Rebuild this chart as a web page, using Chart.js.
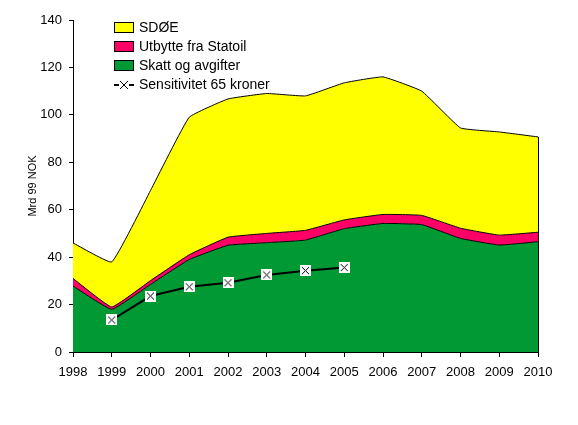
<!DOCTYPE html>
<html>
<head>
<meta charset="utf-8">
<script src="https://cdn.jsdelivr.net/npm/chart.js@4/dist/chart.umd.min.js"></script>
<style>
  html, body { margin: 0; padding: 0; background: #fff; }
  #c { display: block; }
</style>
</head>
<body>
<canvas id="c" width="578" height="425"></canvas>
<script>
// values (Mrd 99 NOK)
const years = ['1998','1999','2000','2001','2002','2003','2004','2005','2006','2007','2008','2009','2010'];
const skatt = [27.8, 18, 28.5, 39, 45, 46.1, 47.2, 52, 54.2, 53.7, 47.9, 45.1, 46.5];
const utbytte = [3.2, 1, 1.6, 2, 3.4, 3.9, 4.1, 3.7, 3.8, 3.9, 4.3, 4.2, 4];
const sdoe = [15, 19, 38, 58, 58.3, 59, 56.7, 57.8, 58, 52.4, 42.3, 43.5, 40.2];
const sensitivitet = [null, 13.5, 23.6, 27.5, 29.2, 32.5, 34.3, 35.6, null, null, null, null, null];
const yTicks = [0, 20, 40, 60, 80, 100, 120, 140];

const FONT = 'Liberation Sans, Arial, sans-serif';
const YELLOW = '#ffff00', RED = '#ff0066', GREEN = '#009933';

// white box with a black cross, like the excel marker
function makeMarker(){
  const m = document.createElement('canvas'); m.width = 11; m.height = 11;
  const g = m.getContext('2d');
  g.fillStyle = '#fff'; g.fillRect(0,0,11,11);
  g.strokeStyle = '#000'; g.lineWidth = 1;
  g.beginPath(); g.moveTo(2,2); g.lineTo(9,9); g.moveTo(9,2); g.lineTo(2,9); g.stroke();
  return m;
}
const marker = makeMarker();

// legend inside the plot, top left
const legendBox = {
  id: 'legendBox',
  afterDraw(chart){
    const ctx = chart.ctx;
    const items = [
      {label:'SDØE', color:YELLOW},
      {label:'Utbytte fra Statoil', color:RED},
      {label:'Skatt og avgifter', color:GREEN},
      {label:'Sensitivitet 65 kroner', line:true}
    ];
    ctx.save();
    ctx.font = '14px ' + FONT;
    ctx.textBaseline = 'middle';
    items.forEach((it,i)=>{
      const cy = 28 + i*19;
      if(it.line){
        ctx.strokeStyle = '#000'; ctx.lineWidth = 2;
        ctx.beginPath(); ctx.moveTo(114, cy); ctx.lineTo(134, cy); ctx.stroke();
        ctx.fillStyle = '#fff'; ctx.fillRect(119, cy-5, 10, 10);
        ctx.lineWidth = 1;
        ctx.beginPath(); ctx.moveTo(120, cy-4); ctx.lineTo(128, cy+4); ctx.moveTo(128, cy-4); ctx.lineTo(120, cy+4); ctx.stroke();
      } else {
        ctx.fillStyle = it.color; ctx.fillRect(114.5, cy-5.5, 19, 10);
        ctx.strokeStyle = '#000'; ctx.lineWidth = 1; ctx.strokeRect(114.5, cy-5.5, 19, 10);
      }
      ctx.fillStyle = '#000';
      ctx.fillText(it.label, 139, cy);
    });
    ctx.restore();
  }
};

// closing vertical edge of the area at the last year
const areaEdge = {
  id: 'areaEdge',
  afterDatasetsDraw(chart){
    const meta = chart.getDatasetMeta(2);
    const p = meta.data[meta.data.length-1];
    const ctx = chart.ctx;
    ctx.save();
    ctx.strokeStyle = '#000'; ctx.lineWidth = 1;
    ctx.beginPath(); ctx.moveTo(Math.round(p.x)+0.5, p.y); ctx.lineTo(Math.round(p.x)+0.5, chart.scales.y.getPixelForValue(0)); ctx.stroke();
    ctx.restore();
  }
};

function area(label, data, color, fill){
  return { label, data, backgroundColor: color, borderColor: '#000', borderWidth: 1,
    fill, pointRadius: 0, tension: 0.1, stack: 'a' };
}

new Chart(document.getElementById('c'), {
  type: 'line',
  data: {
    labels: years,
    datasets: [
      area('Skatt og avgifter', skatt, GREEN, 'origin'),
      area('Utbytte fra Statoil', utbytte, RED, '-1'),
      area('SDØE', sdoe, YELLOW, '-1'),
      { label: 'Sensitivitet 65 kroner', data: sensitivitet, borderColor: '#000', borderWidth: 2,
        fill: false, pointStyle: marker, pointRadius: 5, tension: 0, stack: 's', order: -1, spanGaps: false }
    ]
  },
  plugins: [legendBox, areaEdge],
  options: {
    responsive: false,
    animation: false,
    layout: { padding: { left: 0, right: 40, top: 20, bottom: 0 } },
    plugins: { legend: { display: false }, tooltip: { enabled: false } },
    scales: {
      x: {
        offset: false,
        grid: { drawOnChartArea: false, drawTicks: true, tickLength: 5, color: '#000' },
        border: { display: true, color: '#000', width: 1 },
        ticks: { color: '#000', font: { family: FONT, size: 13 }, padding: 8, maxRotation: 0, autoSkip: false },
        afterFit(s){ s.height = 73; }
      },
      y: {
        stacked: true,
        min: 0, max: 140,
        afterBuildTicks(s){ s.ticks = yTicks.map(v=>({value:v})); },
        grid: { drawOnChartArea: false, drawTicks: true, tickLength: 4, color: '#000' },
        border: { display: true, color: '#000', width: 1 },
        ticks: { color: '#000', font: { family: FONT, size: 13 }, padding: 7 },
        title: { display: true, text: 'Mrd 99 NOK', color: '#000', font: { family: FONT, size: 11 }, padding: { top: 26, bottom: 0 } },
        afterFit(s){ s.width = 73; }
      }
    }
  }
});
</script>
</body>
</html>
